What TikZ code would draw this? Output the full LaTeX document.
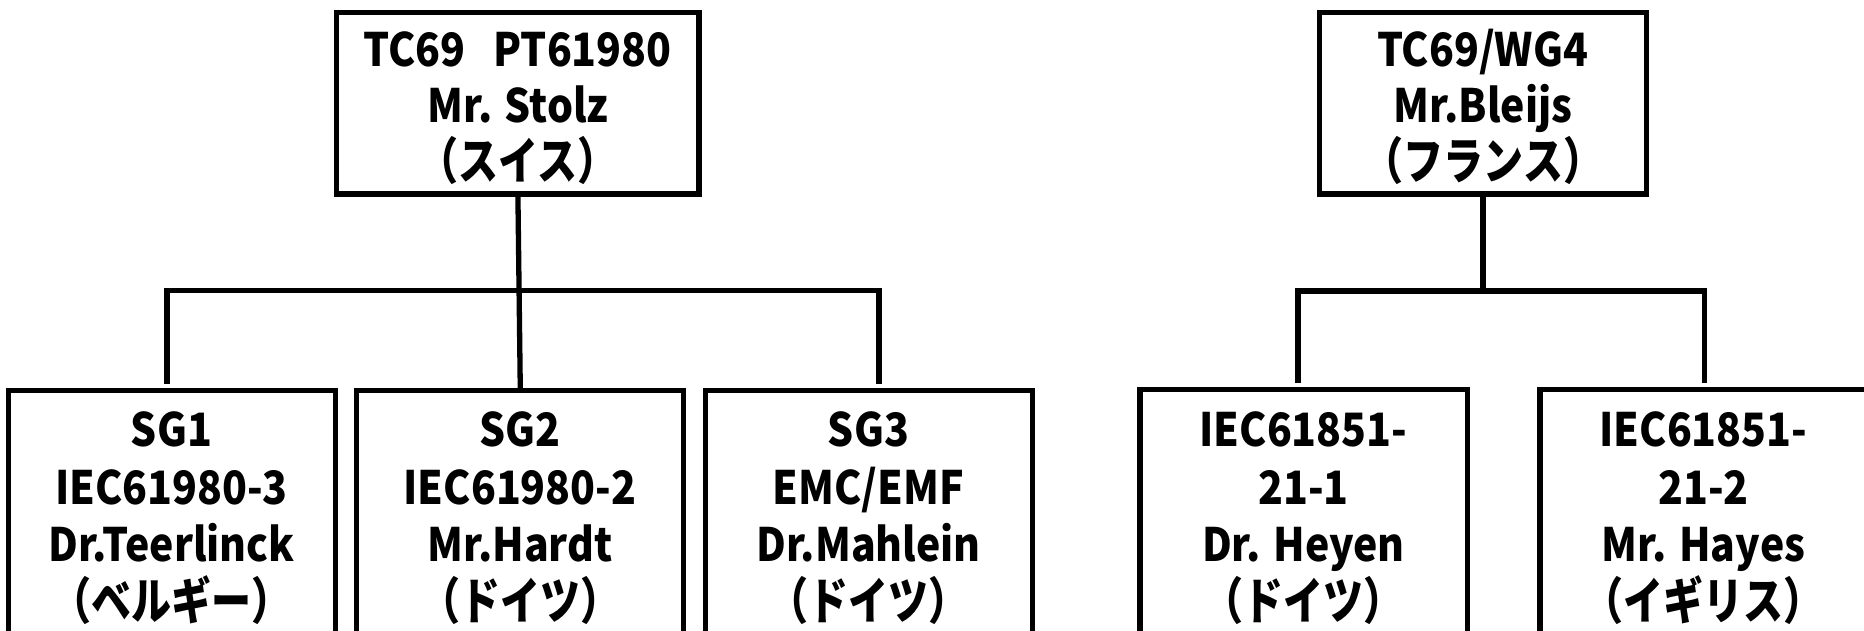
\documentclass[tikz,border=0pt]{standalone}
\usepackage{fontspec}
\setmainfont{Noto Sans CJK JP}[FakeStretch=0.89]
\newfontfamily\jpf{Noto Sans CJK JP}[FakeStretch=0.8]
\newcommand\jp[1]{{\jpf\bfseries\fontsize{50}{56}\selectfont #1}}
\begin{document}
\begin{tikzpicture}[x=1pt,y=-1pt,
  box/.style={draw, line width=5.3pt, inner sep=0pt, outer sep=0pt, rectangle},
  conn/.style={line width=5.3pt},
  lbl/.style={anchor=base, inner sep=0pt, font=\fontsize{46}{56}\selectfont\bfseries},
]
\useasboundingbox (0,0) rectangle (1864,631);
\clip (0,0) rectangle (1864,631);
% top boxes
\node[box, minimum width=362.2pt, minimum height=181.5pt] (top1) at (517.9,103.25) {};
\node[box, minimum width=326.8pt, minimum height=181.5pt] (top2) at (1483.1,103.25) {};
% bottom boxes (cut off by the lower edge)
\node[box, minimum width=326.5pt, minimum height=300pt] (sg1) at (172.05,540.5) {};
\node[box, minimum width=327pt, minimum height=300pt] (sg2) at (520.3,540.5) {};
\node[box, minimum width=327.2pt, minimum height=300pt] (sg3) at (868.9,540.5) {};
\node[box, minimum width=327.5pt, minimum height=300pt] (iec1) at (1303.75,539.5) {};
\node[box, minimum width=327.5pt, minimum height=300pt] (iec2) at (1703.75,539.5) {};
% labels
\node[lbl] (t1a) at (517.5,66.4) {TC69\hspace{28pt}PT61980};
\node[lbl] (t1b) at (518,122.7) {Mr. Stolz};
\node[lbl] (t1c) at (518,180) {\jp{（スイス）}};
\node[lbl] (t2a) at (1482.5,66.4) {TC69/WG4};
\node[lbl] (t2b) at (1483,122.7) {Mr.Bleijs};
\node[lbl] (t2c) at (1483.5,180) {\jp{（フランス）}};
\node[lbl] (s1a) at (171.5,446.7) {SG1};
\node[lbl] (s1b) at (171.5,504) {IEC61980-3};
\node[lbl] (s1c) at (171.5,561.4) {Dr.Teerlinck};
\node[lbl] (s1d) at (171.5,619.5) {\jp{（ベルギー）}};
\node[lbl] (s2a) at (520,446.7) {SG2};
\node[lbl] (s2b) at (520,504) {IEC61980-2};
\node[lbl] (s2c) at (520,561.4) {Mr.Hardt};
\node[lbl] (s2d) at (520,619.5) {\jp{（ドイツ）}};
\node[lbl] (s3a) at (868.5,446.7) {SG3};
\node[lbl] (s3b) at (868.5,504) {EMC/EMF};
\node[lbl] (s3c) at (868.5,561.4) {Dr.Mahlein};
\node[lbl] (s3d) at (868.5,619.5) {\jp{（ドイツ）}};
\node[lbl] (i1a) at (1303.5,446.7) {IEC61851-};
\node[lbl] (i1b) at (1303.5,504) {21-1};
\node[lbl] (i1c) at (1303.5,561.4) {Dr. Heyen};
\node[lbl] (i1d) at (1303.5,619.5) {\jp{（ドイツ）}};
\node[lbl] (i2a) at (1703.5,446.7) {IEC61851-};
\node[lbl] (i2b) at (1703.5,504) {21-2};
\node[lbl] (i2c) at (1703.5,561.4) {Mr. Hayes};
\node[lbl] (i2d) at (1703.5,619.5) {\jp{（イギリス）}};
% connectors, left tree
\coordinate (d1) at (167,384);
\coordinate (d3) at (879,384);
\coordinate (c1) at (167,290.5);
\coordinate (c3) at (879,290.5);
\draw[conn] (top1.south) -- (sg2.north);
\draw[conn] (d1) -- (c1) -- (c3) -- (d3);
% connectors, right tree
\coordinate (e1) at (1298,383);
\coordinate (e2) at (1704.5,383);
\coordinate (f1) at (1298,291);
\coordinate (f2) at (1704.5,291);
\coordinate (j2) at (1483.1,291);
\draw[conn] (top2.south) -- (j2);
\draw[conn] (e1) -- (f1) -- (f2) -- (e2);
\end{tikzpicture}
\end{document}
